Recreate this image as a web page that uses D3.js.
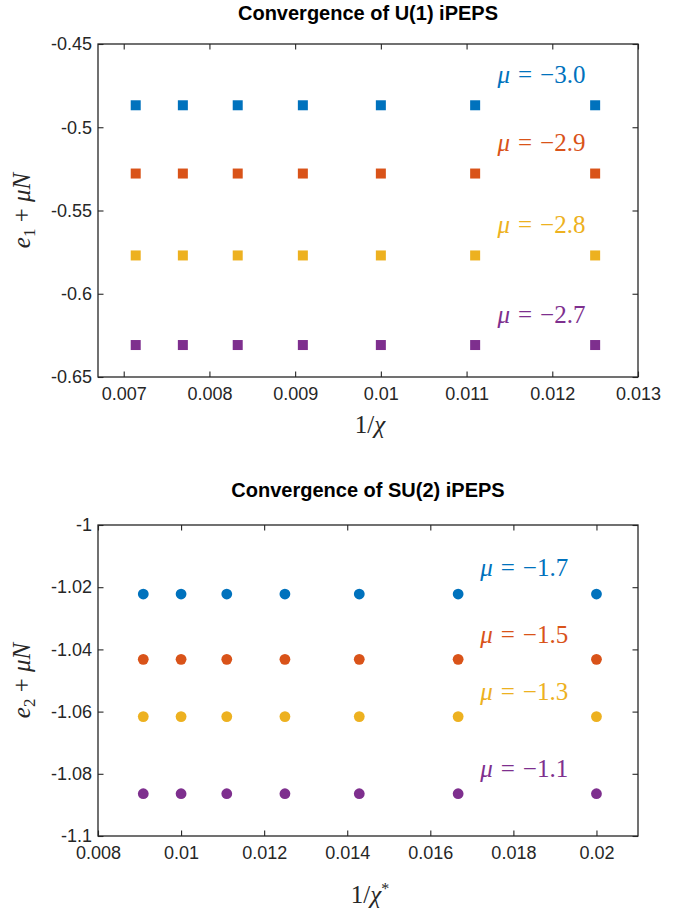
<!DOCTYPE html>
<html>
<head>
<meta charset="utf-8">
<script src="https://cdn.jsdelivr.net/npm/d3@7"></script>
<style>
  body { margin: 0; background: #fff; }
  svg { display: block; }
</style>
</head>
<body>
<div id="vis"></div>
<script>
// ---- data ----
const colors = ['#0072BD', '#D95319', '#EDB120', '#7E2F8E'];

// U(1) iPEPS, x = 1/chi
const xU1 = [0.00714, 0.00769, 0.00833, 0.00909, 0.0100, 0.0111, 0.0125];
const muU1 = ['-3.0', '-2.9', '-2.8', '-2.7'];
const eU1 = [
  [-0.4868, -0.4868, -0.4868, -0.4868, -0.4868, -0.4868, -0.4868],
  [-0.5278, -0.5278, -0.5278, -0.5278, -0.5278, -0.5278, -0.5278],
  [-0.5770, -0.5770, -0.5770, -0.5770, -0.5770, -0.5770, -0.5770],
  [-0.6308, -0.6308, -0.6308, -0.6308, -0.6308, -0.6308, -0.6308]
];
const labelXU1 = 0.01136;
const labelYU1 = [-0.4687, -0.5096, -0.5590, -0.6130];
const xTicksU1 = [0.007, 0.008, 0.009, 0.010, 0.011, 0.012, 0.013];
const yTicksU1 = [-0.65, -0.60, -0.55, -0.50, -0.45];

// SU(2) iPEPS, x = 1/chi*
const xSU2 = [0.00909, 0.0100, 0.0111, 0.0125, 0.01429, 0.01667, 0.0200];
const muSU2 = ['-1.7', '-1.5', '-1.3', '-1.1'];
const eSU2 = [
  [-1.0222, -1.0222, -1.0222, -1.0222, -1.0222, -1.0222, -1.0222],
  [-1.0432, -1.0432, -1.0432, -1.0432, -1.0432, -1.0432, -1.0432],
  [-1.0616, -1.0616, -1.0616, -1.0616, -1.0616, -1.0616, -1.0616],
  [-1.0864, -1.0864, -1.0864, -1.0864, -1.0864, -1.0864, -1.0864]
];
const labelXSU2 = 0.0172;
const labelYSU2 = [-1.0139, -1.0354, -1.0537, -1.0784];
const xTicksSU2 = [0.008, 0.010, 0.012, 0.014, 0.016, 0.018, 0.020];
const yTicksSU2 = [-1.10, -1.08, -1.06, -1.04, -1.02, -1.00];

const svg = d3.select('#vis')
  .append('svg')
  .attr('width', 679)
  .attr('height', 911);

const axisColor = '#262626';
const tickFont = '"Liberation Sans", Arial, sans-serif';
const mathFont = '"Liberation Serif", "Times New Roman", serif';
const fmt = d => String(+d.toFixed(4));

function drawPanel(p) {
  const x = d3.scaleLinear().domain(p.xDomain).range([98, 638]);
  const y = d3.scaleLinear().domain(p.yDomain).range([p.bottom, p.top]);
  const g = svg.append('g');

  // title
  g.append('text')
    .attr('x', 368)
    .attr('y', p.titleY)
    .attr('text-anchor', 'middle')
    .style('font-family', tickFont)
    .style('font-weight', 'bold')
    .style('font-size', '20px')
    .attr('fill', '#000')
    .text(p.title);

  // axes, ticks pointing inward, mirrored on top and right
  const tl = 5.5;
  const bottomAxis = g.append('g')
    .attr('transform', `translate(0,${p.bottom})`)
    .call(d3.axisBottom(x).tickValues(p.xTicks).tickFormat(fmt).tickSizeInner(-tl).tickSizeOuter(0).tickPadding(10));
  const leftAxis = g.append('g')
    .attr('transform', 'translate(98,0)')
    .call(d3.axisLeft(y).tickValues(p.yTicks).tickFormat(fmt).tickSizeInner(-tl).tickSizeOuter(0).tickPadding(6));
  const topAxis = g.append('g')
    .attr('transform', `translate(0,${p.top})`)
    .call(d3.axisTop(x).tickValues(p.xTicks).tickFormat('').tickSizeInner(-tl).tickSizeOuter(0));
  const rightAxis = g.append('g')
    .attr('transform', 'translate(638,0)')
    .call(d3.axisRight(y).tickValues(p.yTicks).tickFormat('').tickSizeInner(-tl).tickSizeOuter(0));

  [bottomAxis, leftAxis, topAxis, rightAxis].forEach(a => {
    a.select('.domain').remove();
    a.selectAll('line').attr('stroke', axisColor).attr('stroke-width', 1.1);
    a.selectAll('text')
      .style('font-family', tickFont)
      .style('font-size', '18px')
      .attr('fill', axisColor);
  });

  // frame
  g.append('rect')
    .attr('x', 98)
    .attr('y', p.top)
    .attr('width', 540)
    .attr('height', p.bottom - p.top)
    .attr('fill', 'none')
    .attr('stroke', axisColor)
    .attr('stroke-width', 1.3);

  // markers
  p.series.forEach((vals, i) => {
    const pts = g.append('g').selectAll('.pt')
      .data(vals.map((v, j) => ({ x: p.xs[j], y: v })))
      .enter();
    if (p.marker === 'square') {
      pts.append('rect')
        .attr('x', d => x(d.x) - 5)
        .attr('y', d => y(d.y) - 5)
        .attr('width', 10)
        .attr('height', 10)
        .attr('fill', colors[i]);
    } else {
      pts.append('circle')
        .attr('cx', d => x(d.x))
        .attr('cy', d => y(d.y))
        .attr('r', 5.4)
        .attr('fill', colors[i]);
    }
  });

  // mu annotations
  p.mus.forEach((m, i) => {
    const t = g.append('text')
      .attr('x', x(p.labelX))
      .attr('y', y(p.labelY[i]) + 8)
      .attr('fill', colors[i])
      .style('font-family', mathFont)
      .style('font-size', '25px');
    t.append('tspan').style('font-style', 'italic').text('\u03bc');
    t.append('tspan').attr('dx', 8).text('=');
    t.append('tspan').attr('dx', 8).text('\u2212' + m.replace('-', ''));
  });

  // x label
  const xl = g.append('text')
    .attr('x', 370)
    .attr('y', p.bottom + p.xLabelOffset)
    .attr('text-anchor', 'middle')
    .style('font-family', mathFont)
    .style('font-size', '25px')
    .attr('fill', axisColor);
  xl.append('tspan').text('1/');
  xl.append('tspan').style('font-style', 'italic').text('\u03c7');
  if (p.star) xl.append('tspan').attr('dy', -9).style('font-size', '16px').text('*');

  // y label
  const yl = g.append('text')
    .attr('transform', `translate(30,${(p.top + p.bottom) / 2}) rotate(-90)`)
    .attr('text-anchor', 'middle')
    .style('font-family', mathFont)
    .style('font-size', '25px')
    .attr('fill', axisColor);
  yl.append('tspan').style('font-style', 'italic').text('e');
  yl.append('tspan').attr('dy', 5).style('font-size', '17px').text(p.sub);
  yl.append('tspan').attr('dy', -5).text(' + ');
  yl.append('tspan').style('font-style', 'italic').text('\u03bcN');
}

drawPanel({
  title: 'Convergence of U(1) iPEPS',
  titleY: 20,
  top: 44, bottom: 377,
  xDomain: [0.0067, 0.013], yDomain: [-0.65, -0.45],
  xTicks: xTicksU1, yTicks: yTicksU1,
  xs: xU1, series: eU1, mus: muU1,
  labelX: labelXU1, labelY: labelYU1,
  marker: 'square', sub: '1', star: false, xLabelOffset: 56
});

drawPanel({
  title: 'Convergence of SU(2) iPEPS',
  titleY: 497,
  top: 525, bottom: 836,
  xDomain: [0.008, 0.021], yDomain: [-1.1, -1.0],
  xTicks: xTicksSU2, yTicks: yTicksSU2,
  xs: xSU2, series: eSU2, mus: muSU2,
  labelX: labelXSU2, labelY: labelYSU2,
  marker: 'circle', sub: '2', star: true, xLabelOffset: 67
});
</script>
</body>
</html>
